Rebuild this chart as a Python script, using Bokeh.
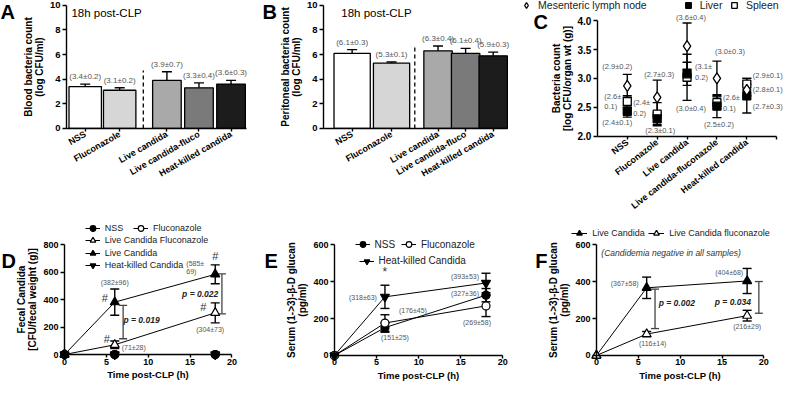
from bokeh.plotting import figure
from bokeh.models import (ColumnDataSource, Whisker, TeeHead, Label, LabelSet, Legend,
                          LegendItem, FixedTicker, Range1d, PrintfTickFormatter, LinearAxis)
from bokeh.embed import file_html
from bokeh.resources import INLINE
from bokeh.core.properties import value

FONT = "Liberation Sans"
TXT = "#555555"
YS = -1  # LabelSet y_offset sign (dy given as screen-down pixels)

# ---------------- data ----------------
bar_groups = ["NSS", "Fluconazole", "Live candida", "Live candida-fluco", "Heat-killed candida"]
bar_colors = ["#ffffff", "#d6d6d6", "#a9a9a9", "#7a7a7a", "#1c1c1c"]
blood_mean = [3.4, 3.1, 3.9, 3.3, 3.6]
blood_sd = [0.2, 0.2, 0.7, 0.4, 0.3]
perit_mean = [6.1, 5.3, 6.3, 6.1, 5.9]
perit_sd = [0.3, 0.1, 0.4, 0.4, 0.3]
bar_ticks = [0, 2, 4, 6, 8, 10]

organ_groups = ["NSS", "Fluconazole", "Live candida", "Live candida-fluconazole", "Heat-killed candida"]
organ_series = ["Mesenteric lymph node", "Liver", "Spleen"]
mln_mean = [2.87, 2.67, 3.56, 3.0, 2.8]
mln_sd = [0.2, 0.3, 0.4, 0.3, 0.1]
liver_mean = [2.43, 2.3, 3.08, 2.52, 2.7]
liver_sd = [0.1, 0.1, 0.2, 0.2, 0.3]
spleen_mean = [2.6, 2.38, 3.02, 2.58, 2.9]
spleen_sd = [0.1, 0.2, 0.4, 0.1, 0.1]
organ_ticks = [2.0, 2.5, 3.0, 3.5, 4.0]

time_h = [0, 6, 18]
time_ticks = [0, 5, 10, 15, 20]
fecal_names = ["NSS", "Fluconazole", "Live Candida Fluconazole", "Live Candida", "Heat-killed Candida"]
fecal_nss = [0, 0, 0]
fecal_nss_sd = [0, 0, 0]
fecal_fluc = [0, 0, 0]
fecal_fluc_sd = [0, 0, 0]
fecal_lcf = [0, 71, 304]
fecal_lcf_sd = [0, 28, 73]
fecal_lc = [0, 382, 585]
fecal_lc_sd = [0, 96, 69]
fecal_hk = [0, 0, 0]
fecal_hk_sd = [0, 0, 0]
fecal_ticks = [0, 200, 400, 600, 800]
fecal_pvals = ["p = 0.019", "p = 0.022"]
fecal_bracket_lo = [115, 297]
fecal_bracket_hi = [358, 588]

glucan_names = ["NSS", "Fluconazole", "Heat-killed Candida"]
glucan_nss = [0, 151, 327]
glucan_nss_sd = [0, 25, 36]
glucan_fluc = [0, 176, 269]
glucan_fluc_sd = [0, 45, 58]
glucan_hk = [0, 318, 393]
glucan_hk_sd = [0, 63, 53]
glucan_ticks = [0, 200, 400, 600]

live_names = ["Live Candida", "Live Candida fluconazole"]
live_lc = [0, 367, 404]
live_lc_sd = [0, 58, 68]
live_lcf = [0, 116, 216]
live_lcf_sd = [0, 14, 29]
live_pvals = ["p = 0.002", "p = 0.034"]
live_bracket_lo = [146, 229]
live_bracket_hi = [360, 401]

# ---------------- canvas / layout helpers ----------------
W, H = 784, 384


def X(x):  # reference-layout x (px) -> canvas px
    return (x - 2) * 0.985


def Y(y):  # reference-layout y (px) -> canvas px
    return (y - 3) * 0.962


p = figure(width=W, height=H, x_range=Range1d(0, W), y_range=Range1d(H, 0),
           x_axis_location=None, y_axis_location=None, min_border=0,
           output_backend="svg", toolbar_location=None)
p.outline_line_color = None
p.grid.visible = False

xr_extra, yr_extra = {}, {}


def panel_ranges(name, xpx, xval, ypx, yval):
    xa, xb = X(xpx[0]), X(xpx[1])
    k = (xval[1] - xval[0]) / (xb - xa)
    xs = xval[0] - xa * k
    xr_extra[name] = Range1d(xs, xs + W * k)
    ya, yb = Y(ypx[0]), Y(ypx[1])
    ky = (yval[1] - yval[0]) / (ya - yb)
    ys = yval[0] - (H - ya) * ky
    yr_extra[name] = Range1d(ys, ys + H * ky)


panel_ranges("A", (88, 123), (0, 1), (136, 8), (0, 10))
panel_ranges("B", (359, 399), (0, 1), (136, 8), (0, 10))
panel_ranges("C", (608, 790), (0, 6), (144, 24), (2.0, 4.0))
panel_ranges("D", (67, 237), (0, 20), (371, 257), (0, 800))
panel_ranges("E", (341, 512), (0, 20), (372, 257), (0, 600))
panel_ranges("F", (607, 777), (0, 20), (372, 257), (0, 600))
p.extra_x_ranges = xr_extra
p.extra_y_ranges = yr_extra

BASE = {"top": "bottom", "bot": "top", "mid": "middle"}


def style_axis(ax, tick_size="9.5px", label_size="10px"):
    ax.axis_line_width = 1.4
    ax.axis_line_color = "black"
    ax.major_tick_line_width = 1.4
    ax.major_tick_line_color = "black"
    ax.major_tick_out = 4
    ax.major_tick_in = 0
    ax.minor_tick_line_color = None
    ax.major_label_text_font = FONT
    ax.major_label_text_font_style = "bold"
    ax.major_label_text_font_size = tick_size
    ax.major_label_text_color = "black"
    ax.major_label_standoff = 2
    ax.axis_label_text_font = FONT
    ax.axis_label_text_font_style = "bold"
    ax.axis_label_text_font_size = label_size
    ax.axis_label_text_color = "black"
    ax.axis_label_standoff = 2
    ax.axis_label_text_line_height = 1.0


def add_axes(name, xfix, yfix, xbounds, ybounds, xticks, yticks, ylabel, xlabel=None,
             xoverrides=None, xorient=None, xtick_size="9px", ytick_size="9.5px", yfmt=None):
    xa = LinearAxis(x_range_name=name, y_range_name=name, fixed_location=yfix, bounds=xbounds,
                    ticker=FixedTicker(ticks=xticks))
    style_axis(xa, tick_size=xtick_size)
    xa.major_tick_out = 3
    if xoverrides is not None:
        xa.major_label_overrides = xoverrides
    if xorient is not None:
        xa.major_label_orientation = xorient
    if xlabel:
        xa.axis_label = xlabel
        xa.axis_label_text_font_size = "9.5px"
        xa.major_label_standoff = 1
        xa.axis_label_standoff = 1
    p.add_layout(xa, "below")
    ya = LinearAxis(x_range_name=name, y_range_name=name, fixed_location=xfix, bounds=ybounds,
                    ticker=FixedTicker(ticks=yticks), axis_label=ylabel)
    style_axis(ya, tick_size=ytick_size)
    if yfmt is not None:
        ya.formatter = yfmt
    p.add_layout(ya, "left")


def add_whisker(name, xs, lo, hi, size=10, lower=True, color="black", width=1.4):
    src = ColumnDataSource(dict(x=list(xs), lo=list(lo), hi=list(hi)))
    w = Whisker(source=src, base="x", lower="lo", upper="hi", dimension="height",
                x_range_name=name, y_range_name=name,
                line_color=color, line_width=width,
                upper_head=TeeHead(size=size, line_color=color, line_width=width),
                lower_head=TeeHead(size=size, line_color=color, line_width=width) if lower else None)
    p.add_layout(w)


def add_labels(name, entries, size, color=TXT, style="normal"):
    groups = {}
    for e in entries:
        groups.setdefault((e["align"], e["baseline"]), []).append(e)
    for (al, bl), es in groups.items():
        src = ColumnDataSource(dict(x=[e["x"] for e in es], y=[e["y"] for e in es],
                                    t=[e["text"] for e in es],
                                    dx=[e["dx"] for e in es], dy=[YS * e["dy"] for e in es]))
        p.add_layout(LabelSet(x="x", y="y", text="t", x_offset="dx", y_offset="dy", source=src,
                              x_range_name=name, y_range_name=name,
                              text_align=al, text_baseline=bl, text_font=value(FONT),
                              text_font_size=value(size), text_color=color,
                              text_font_style=style))


def canvas_text(x, y, text, size, style="normal", align="left", baseline="top", color="black"):
    p.add_layout(Label(x=x, y=y, text=text, text_font=FONT, text_font_size=size,
                       text_font_style=style, text_align=align, text_baseline=baseline,
                       text_color=color))


def legend_row(items, gx, yc, size, gw=16, gh=14, standoff=5, spacing=0):
    """items: list of (label, renderers); gx, yc in reference-layout px."""
    leg = Legend(items=[LegendItem(label=l, renderers=r) for l, r in items],
                 location=(X(gx), H - (Y(yc) + gh / 2)), orientation="horizontal",
                 label_text_font=FONT, label_text_font_size=size, label_text_color="#222222",
                 glyph_width=gw, glyph_height=gh, label_height=gh, label_standoff=standoff,
                 spacing=spacing, padding=0, margin=0, border_line_color=None,
                 background_fill_alpha=0)
    p.add_layout(leg)


def fmt_ms(m, s, nd, wrap=False):
    return f"({m:.{nd}f}±" + ("\n" if wrap else "") + f"{s:.{nd}f})"


# ---------------- Panels A & B ----------------
def bar_panel(name, letter, lpos, means, sds, ylabel, pos, widths, xbounds, title_pos):
    add_axes(name, xbounds[0], 0, xbounds, (0, 10), pos, bar_ticks, ylabel,
             xoverrides=dict(zip(pos, bar_groups)), xorient=0.52)
    p.vbar(x=pos, bottom=0, top=means, width=widths, fill_color=bar_colors,
           line_color="black", line_width=1.3, x_range_name=name, y_range_name=name)
    tops = [m + s for m, s in zip(means, sds)]
    add_whisker(name, pos, means, tops, size=10, lower=False)
    xd = (pos[1] + pos[2]) / 2
    p.segment(x0=[xd], y0=[0], x1=[xd], y1=[max(tops) + 0.1], line_color="black",
              line_width=1.3, line_dash="4 3", x_range_name=name, y_range_name=name)
    add_labels(name, [dict(x=x, y=t, text=fmt_ms(m, s, 1), dx=0, dy=-3, align="center",
                           baseline="bottom") for x, t, m, s in zip(pos, tops, means, sds)], "8px")
    canvas_text(X(title_pos[0]), Y(title_pos[1]), "18h post-CLP", "11.5px", baseline="middle")
    canvas_text(X(lpos[0]), Y(lpos[1]), letter, "20px", style="bold")


bar_panel("A", "A", (2, 4), blood_mean, blood_sd, "Blood bacteria count\n(log CFU/ml)",
          [0, 1, 2.37, 3.3, 4.23], [0.94, 0.94, 0.83, 0.83, 0.83], (-0.543, 4.686), (74, 16))
bar_panel("B", "B", (268, 4), perit_mean, perit_sd, "Peritoneal bacteria count\n(log CFU/ml)",
          [0, 1, 2.18, 2.88, 3.58], [0.92, 0.92, 0.72, 0.72, 0.72], (-0.725, 3.95), (348, 16))

# ---------------- Panel C ----------------
cx = [i + 1 for i in range(len(organ_groups))]
c_ov = dict(zip(cx, organ_groups))
c_ov[len(organ_groups) + 1] = ""
add_axes("C", 0, 2.0, (0, 6), (2.0, 4.0), cx + [len(organ_groups) + 1], organ_ticks,
         "Bacteria count\n[log CFU/organ wt (g)]", xoverrides=c_ov, xorient=0.66,
         ytick_size="10px", yfmt=PrintfTickFormatter(format="%.1f"))
organ_data = {"mln": (mln_mean, mln_sd), "liver": (liver_mean, liver_sd),
              "spleen": (spleen_mean, spleen_sd)}
for k in ["spleen", "liver", "mln"]:
    m, s = organ_data[k]
    add_whisker("C", cx, [a - b for a, b in zip(m, s)], [a + b for a, b in zip(m, s)], size=9)
r_spleen = p.scatter(cx, spleen_mean, marker="square", size=8, fill_color="white",
                     line_color="black", line_width=1.3, x_range_name="C", y_range_name="C")
r_liver = p.scatter(cx, liver_mean, marker="square", size=8, fill_color="black",
                    line_color="black", line_width=1.3, x_range_name="C", y_range_name="C")
r_mln = p.scatter(cx, mln_mean, marker="diamond", size=11, fill_color="white",
                  line_color="black", line_width=1.3, x_range_name="C", y_range_name="C")

# label placement: (series, group idx) -> (anchor, dx, dy, align, wrap)
c_place = {
    ("mln", 0): ("top", -10, -3, "center", False),
    ("spleen", 0): ("mid", -6, 0, "right", True),
    ("liver", 0): ("bot", -10, 1, "center", False),
    ("mln", 1): ("top", 2, -1, "center", False),
    ("spleen", 1): ("mid", -7, -6, "right", True),
    ("liver", 1): ("bot", 3, 1, "center", False),
    ("mln", 2): ("top", 4, -1, "center", False),
    ("liver", 2): ("mid", 8, -2, "left", True),
    ("spleen", 2): ("bot", 4, 4, "center", False),
    ("mln", 3): ("top", 13, -5, "center", False),
    ("spleen", 3): ("mid", 6, 0, "left", True),
    ("liver", 3): ("bot", 2, 2, "center", False),
    ("spleen", 4): ("mid", 6, -9, "left", False),
    ("mln", 4): ("mid", 6, 0, "left", False),
    ("liver", 4): ("mid", 6, 11, "left", False),
}
c_entries = []
for (k, i), (anc, dx, dy, al, wrap) in c_place.items():
    m, s = organ_data[k][0][i], organ_data[k][1][i]
    yv = m + s if anc == "top" else (m - s if anc == "bot" else m)
    c_entries.append(dict(x=cx[i], y=yv, text=fmt_ms(m, s, 1, wrap), dx=dx, dy=dy,
                          align=al, baseline=BASE[anc]))
add_labels("C", c_entries, "7.5px")
legend_row([(organ_series[0], [r_mln])], 529, 8.5, "10.5px", gw=14, standoff=5)
legend_row([(organ_series[1], [r_liver])], 693, 8.5, "10.5px", gw=14, standoff=5)
legend_row([(organ_series[2], [r_spleen])], 740, 8.5, "10.5px", gw=14, standoff=5)
canvas_text(X(543), Y(14), "C", "20px", style="bold")


# ---------------- Panels D, E, F ----------------
def series(name, m, sd, marker, fill, size):
    rl = p.line(time_h, m, line_color="black", line_width=1, x_range_name=name, y_range_name=name)
    idx = [i for i in range(len(time_h)) if sd[i] > 0]
    if idx:
        add_whisker(name, [time_h[i] for i in idx], [m[i] - sd[i] for i in idx],
                    [m[i] + sd[i] for i in idx], size=9)
    rs = p.scatter(time_h, m, marker=marker, size=size, fill_color=fill, line_color="black",
                   line_width=1.2, x_range_name=name, y_range_name=name)
    return [rl, rs]


def value_labels(name, data, places, size="7px", color=TXT, style="normal"):
    ents = []
    for key, i, anc, dx, dy, al, wrap, txt in places:
        m, s = data[key]
        yv = m[i] + s[i] if anc == "top" else (m[i] - s[i] if anc == "bot" else m[i])
        t = fmt_ms(m[i], s[i], 0, wrap) if txt is None else txt
        ents.append(dict(x=time_h[i], y=yv, text=t, dx=dx, dy=dy, align=al, baseline=BASE[anc]))
    add_labels(name, ents, size, color=color, style=style)


def brackets(name, xs, lo, hi, texts, txy):
    add_whisker(name, xs, lo, hi, size=8, color="#444444", width=1.3)
    add_labels(name, [dict(x=a, y=b, text=t, dx=0, dy=0, align="center", baseline="middle")
                      for (a, b), t in zip(txy, texts)], "8.5px", color="#222222",
               style="bold italic")


def time_axes(name, ytop, yticks, ylabel):
    add_axes(name, 0, 0, (0, 20), (0, ytop), time_ticks, yticks, ylabel,
             xlabel="Time post-CLP (h)", ytick_size="9px")


# D
time_axes("D", 800, fecal_ticks, "Fecal Candida\n[CFU/fecal weight (g)]")
dd = {"nss": (fecal_nss, fecal_nss_sd), "fluc": (fecal_fluc, fecal_fluc_sd),
      "lcf": (fecal_lcf, fecal_lcf_sd), "lc": (fecal_lc, fecal_lc_sd), "hk": (fecal_hk, fecal_hk_sd)}
d_hk = series("D", fecal_hk, fecal_hk_sd, "inverted_triangle", "black", 9)
d_fluc = series("D", fecal_fluc, fecal_fluc_sd, "circle", "white", 8)
d_nss = series("D", fecal_nss, fecal_nss_sd, "circle", "black", 8)
d_lcf = series("D", fecal_lcf, fecal_lcf_sd, "triangle", "white", 9)
d_lc = series("D", fecal_lc, fecal_lc_sd, "triangle", "black", 9)
brackets("D", [7.0, 18.8], fecal_bracket_lo, fecal_bracket_hi, fecal_pvals, [(9.2, 253), (16.2, 442)])
value_labels("D", dd, [
    ("lc", 1, "top", 0, -3, "center", False, None),
    ("lcf", 1, "mid", 7, 3, "left", False, None),
    ("lc", 2, "mid", -20, -7, "center", True, None),
    ("lcf", 2, "bot", -5, 3, "center", False, None),
])
value_labels("D", dd, [
    ("lc", 1, "mid", -10, -4, "center", False, "#"),
    ("lcf", 1, "mid", -8, -6, "center", False, "#"),
    ("lc", 2, "top", 0, -3, "center", False, "#"),
    ("lcf", 2, "mid", -12, -6, "center", False, "#"),
], size="11px", color="#333333")
legend_row([(fecal_names[0], d_nss)], 88, 240, "9px", gw=15)
legend_row([(fecal_names[1], d_fluc)], 137, 240, "9px", gw=15)
legend_row([(fecal_names[2], d_lcf)], 88, 252.5, "9px", gw=15)
legend_row([(fecal_names[3], d_lc)], 88, 265.5, "9px", gw=15)
legend_row([(fecal_names[4], d_hk)], 88, 278, "9px", gw=15)
canvas_text(X(3), Y(262), "D", "20px", style="bold")

# E
time_axes("E", 600, glucan_ticks, "Serum (1->3)-β-D glucan\n(pg/ml)")
ed = {"nss": (glucan_nss, glucan_nss_sd), "fluc": (glucan_fluc, glucan_fluc_sd),
      "hk": (glucan_hk, glucan_hk_sd)}
e_nss = series("E", glucan_nss, glucan_nss_sd, "circle", "black", 8)
e_fluc = series("E", glucan_fluc, glucan_fluc_sd, "circle", "white", 8)
e_hk = series("E", glucan_hk, glucan_hk_sd, "inverted_triangle", "black", 9)
value_labels("E", ed, [
    ("hk", 1, "mid", -8, 1, "right", False, None),
    ("fluc", 1, "top", 14, -1, "left", False, None),
    ("nss", 1, "bot", 10, 2, "center", False, None),
    ("hk", 2, "mid", -7, -7, "right", False, None),
    ("nss", 2, "mid", -7, -2, "right", False, None),
    ("fluc", 2, "bot", -9, 2, "center", False, None),
])
value_labels("E", ed, [("hk", 1, "top", 0, -6, "center", False, "*")], size="12px",
             color="#333333")
legend_row([(glucan_names[0], e_nss)], 362, 257, "10px", gw=15)
legend_row([(glucan_names[1], e_fluc)], 409, 257, "10px", gw=15)
legend_row([(glucan_names[2], e_hk)], 366, 274, "10px", gw=15)
canvas_text(X(270), Y(262), "E", "20px", style="bold")

# F
time_axes("F", 600, glucan_ticks, "Serum (1->3)-β-D glucan\n(pg/ml)")
fd = {"lc": (live_lc, live_lc_sd), "lcf": (live_lcf, live_lcf_sd)}
f_lc = series("F", live_lc, live_lc_sd, "triangle", "black", 9)
f_lcf = series("F", live_lcf, live_lcf_sd, "triangle", "white", 9)
brackets("F", [7.0, 19.4], live_bracket_lo, live_bracket_hi, live_pvals, [(9.6, 282), (16.3, 292)])
value_labels("F", fd, [
    ("lc", 1, "mid", -8, -4, "right", False, None),
    ("lc", 2, "mid", -4, -8, "right", False, None),
    ("lcf", 1, "bot", 6, 3, "center", False, None),
    ("lcf", 2, "bot", 0, 2, "center", False, None),
])
canvas_text(X(612), Y(265), "(Candidemia negative in all samples)", "8.5px", style="italic",
            baseline="middle", color="#333333")
legend_row([(live_names[0], f_lc)], 582, 245, "9px", gw=16)
legend_row([(live_names[1], f_lcf)], 660, 245, "9px", gw=16)
canvas_text(X(545), Y(262), "F", "20px", style="bold")

open("out.html", "w").write(file_html(p, INLINE))
